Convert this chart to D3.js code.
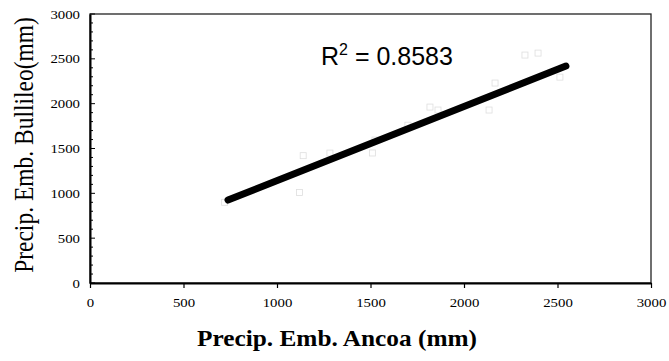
<!DOCTYPE html>
<html>
<head>
<meta charset="utf-8">
<script src="https://cdn.jsdelivr.net/npm/d3@7"></script>
<style>
  html, body { margin: 0; padding: 0; background: #fff; }
  svg { display: block; }
</style>
</head>
<body>
<svg id="chart" width="669" height="361"></svg>
<script>
// ---- data ----
const ancoa    = [720, 1120, 1140, 1283, 1510, 1524, 1700, 1818, 1861, 2134, 2166, 2326, 2396, 2513];
const bullileo = [900, 1010, 1420, 1449, 1450, 1594, 1760, 1962, 1929, 1929, 2230, 2542, 2564, 2296];
const trendSlope = 0.827;
const trendIntercept = 315;
const trendRange = [738, 2545];
const r2Label = "0.8583";
const xTicks = [0, 500, 1000, 1500, 2000, 2500, 3000];
const yTicks = [0, 500, 1000, 1500, 2000, 2500, 3000];
const xTitle = "Precip. Emb. Ancoa (mm)";
const yTitle = "Precip. Emb. Bullileo(mm)";

// ---- layout ----
const svg = d3.select("#chart");
const mLeft = 90, mRight = 651, mTop = 14, mBottom = 283;
const x = d3.scaleLinear().domain([0, 3000]).range([mLeft, mRight]);
const y = d3.scaleLinear().domain([0, 3000]).range([mBottom, mTop]);
const serif = "'Liberation Serif', 'Times New Roman', serif";
const fmt = d3.format("d");

// frame
svg.append("rect")
  .attr("x", mLeft).attr("y", mTop)
  .attr("width", mRight - mLeft).attr("height", mBottom - mTop)
  .attr("fill", "none").attr("stroke", "#222").attr("stroke-width", 1.3);

// faint data points
svg.append("g").selectAll("rect")
  .data(ancoa.map((v, i) => [v, bullileo[i]]))
  .join("rect")
  .attr("x", d => x(d[0]) - 3).attr("y", d => y(d[1]) - 3)
  .attr("width", 6).attr("height", 6)
  .attr("fill", "none").attr("stroke", "#dedede").attr("stroke-width", 0.8);

// x axis
const xAxis = d3.axisBottom(x).tickValues(xTicks).tickFormat(fmt).tickSize(5).tickSizeOuter(0);
const gx = svg.append("g").attr("transform", `translate(0,${mBottom})`).call(xAxis);
gx.select(".domain").attr("stroke", "#000").attr("stroke-width", 2);
gx.selectAll(".tick line").attr("stroke", "#000").attr("stroke-width", 1.2);
gx.selectAll(".tick text")
  .attr("font-family", serif).attr("font-size", 12.5).attr("fill", "#000")
  .attr("dy", "0.71em").attr("y", 15)
  .attr("textLength", d => fmt(d).length * 7.4).attr("lengthAdjust", "spacingAndGlyphs");

// y axis minor ticks (inside)
const yMinor = d3.range(0, 3001, 100);
svg.append("g").selectAll("line")
  .data(yMinor).join("line")
  .attr("x1", mLeft).attr("x2", d => mLeft + (d % 500 === 0 ? 5 : 3))
  .attr("y1", d => y(d)).attr("y2", d => y(d))
  .attr("stroke", "#000").attr("stroke-width", 1);

// y axis
const yAxis = d3.axisLeft(y).tickValues(yTicks).tickFormat(fmt).tickSize(0).tickPadding(10).tickSizeOuter(0);
const gy = svg.append("g").attr("transform", `translate(${mLeft},0)`).call(yAxis);
gy.select(".domain").attr("stroke", "#000").attr("stroke-width", 2);
gy.selectAll(".tick text")
  .attr("font-family", serif).attr("font-size", 12.5).attr("fill", "#000")
  .attr("textLength", d => fmt(d).length * 7.4).attr("lengthAdjust", "spacingAndGlyphs");

// trend line
const trend = trendRange.map(v => [v, trendSlope * v + trendIntercept]);
svg.append("path")
  .datum(trend)
  .attr("d", d3.line().x(d => x(d[0])).y(d => y(d[1])))
  .attr("stroke", "#000").attr("stroke-width", 7).attr("stroke-linecap", "round")
  .attr("fill", "none");

// R² label
const rt = svg.append("text")
  .attr("x", 321).attr("y", 65)
  .attr("font-family", "'Liberation Sans', Arial, sans-serif")
  .attr("font-size", 25).attr("fill", "#000");
rt.append("tspan").text("R");
rt.append("tspan").attr("font-size", 16).attr("dy", -10).text("2");
rt.append("tspan").attr("dy", 10).text(" = " + r2Label);

// axis titles
svg.append("text")
  .attr("x", 197).attr("y", 346)
  .attr("font-family", serif).attr("font-weight", "bold")
  .attr("font-size", 23).attr("fill", "#000")
  .attr("textLength", 280).attr("lengthAdjust", "spacingAndGlyphs")
  .text(xTitle);

svg.append("text")
  .attr("transform", `translate(33,145) rotate(-90) scale(1,1.15)`)
  .attr("text-anchor", "middle")
  .attr("font-family", serif)
  .attr("font-size", 23.5).attr("fill", "#000")
  .text(yTitle);
</script>
</body>
</html>
